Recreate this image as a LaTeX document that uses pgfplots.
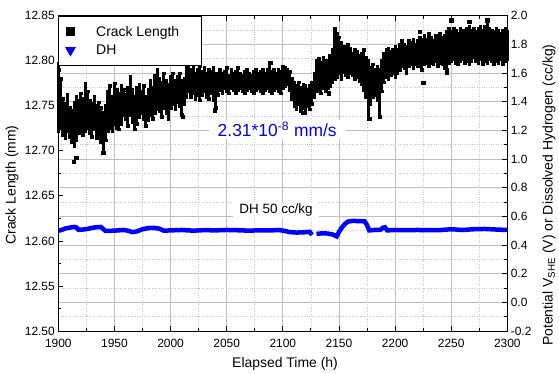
\documentclass[border=0pt]{standalone}
\usepackage{fontspec}
\setmainfont{Liberation Sans}
\usepackage{pgfplots}
\pgfplotsset{compat=1.18}
\usepackage{pgfplotstable}

\pgfplotstableread{
h lo hi
1900 12.722 12.797
1902 12.725 12.780
1904 12.718 12.758
1906 12.714 12.752
1908 12.722 12.762
1910 12.716 12.748
1912 12.710 12.745
1914 12.706 12.754
1916 12.712 12.760
1918 12.720 12.756
1920 12.724 12.764
1922 12.718 12.758
1924 12.722 12.775
1926 12.726 12.766
1928 12.720 12.756
1930 12.716 12.752
1932 12.724 12.760
1934 12.714 12.750
1936 12.718 12.754
1938 12.710 12.748
1940 12.700 12.742
1942 12.712 12.750
1944 12.722 12.766
1946 12.726 12.772
1948 12.722 12.760
1950 12.730 12.775
1952 12.726 12.768
1954 12.724 12.764
1956 12.730 12.772
1958 12.740 12.768
1960 12.735 12.762
1962 12.728 12.770
1964 12.740 12.782
1966 12.732 12.768
1968 12.724 12.760
1970 12.730 12.770
1972 12.738 12.774
1974 12.742 12.766
1976 12.735 12.772
1978 12.728 12.760
1980 12.734 12.768
1982 12.740 12.778
1984 12.736 12.770
1986 12.742 12.784
1988 12.746 12.790
1990 12.744 12.780
1992 12.738 12.776
1994 12.748 12.786
1996 12.742 12.778
1998 12.736 12.774
2000 12.748 12.782
2002 12.752 12.786
2004 12.746 12.778
2006 12.754 12.782
2008 12.750 12.786
2010 12.740 12.778
2012 12.752 12.780
2014 12.760 12.794
2016 12.766 12.796
2018 12.760 12.790
2020 12.764 12.792
2022 12.758 12.786
2024 12.762 12.790
2026 12.756 12.794
2028 12.762 12.788
2030 12.766 12.792
2032 12.760 12.786
2034 12.758 12.790
2036 12.764 12.788
2038 12.756 12.792
2040 12.748 12.786
2042 12.762 12.786
2044 12.768 12.790
2046 12.764 12.786
2048 12.770 12.788
2050 12.766 12.792
2052 12.764 12.784
2054 12.770 12.790
2056 12.768 12.786
2058 12.764 12.788
2060 12.768 12.792
2062 12.770 12.786
2064 12.766 12.784
2066 12.764 12.788
2068 12.768 12.790
2070 12.770 12.786
2072 12.766 12.784
2074 12.764 12.788
2076 12.768 12.790
2078 12.770 12.786
2080 12.766 12.788
2082 12.764 12.790
2084 12.768 12.786
2086 12.770 12.790
2088 12.766 12.798
2090 12.764 12.788
2092 12.768 12.790
2094 12.770 12.786
2096 12.766 12.790
2098 12.764 12.788
2100 12.770 12.794
2102 12.772 12.792
2104 12.774 12.790
2106 12.768 12.788
2108 12.758 12.780
2110 12.750 12.776
2112 12.746 12.772
2114 12.752 12.776
2116 12.744 12.770
2118 12.748 12.774
2120 12.742 12.772
2122 12.750 12.768
2124 12.746 12.772
2126 12.752 12.776
2128 12.760 12.786
2130 12.766 12.800
2132 12.768 12.802
2134 12.764 12.798
2136 12.770 12.804
2138 12.766 12.800
2140 12.770 12.798
2142 12.772 12.806
2144 12.776 12.812
2146 12.780 12.834
2148 12.782 12.830
2150 12.786 12.826
2152 12.780 12.820
2154 12.788 12.816
2156 12.784 12.812
2158 12.782 12.818
2160 12.786 12.814
2162 12.784 12.808
2164 12.780 12.812
2166 12.782 12.810
2168 12.778 12.806
2170 12.774 12.808
2172 12.768 12.812
2174 12.760 12.804
2176 12.740 12.800
2178 12.752 12.792
2180 12.760 12.796
2182 12.762 12.790
2184 12.756 12.794
2186 12.742 12.790
2188 12.766 12.800
2190 12.776 12.808
2192 12.782 12.812
2194 12.780 12.814
2196 12.784 12.810
2198 12.786 12.812
2200 12.782 12.816
2202 12.786 12.812
2204 12.790 12.818
2206 12.794 12.822
2208 12.792 12.818
2210 12.786 12.816
2212 12.794 12.822
2214 12.796 12.820
2216 12.792 12.824
2218 12.796 12.818
2220 12.794 12.822
2222 12.798 12.826
2224 12.790 12.824
2226 12.796 12.828
2228 12.798 12.824
2230 12.794 12.830
2232 12.798 12.826
2234 12.796 12.822
2236 12.800 12.828
2238 12.794 12.826
2240 12.798 12.830
2242 12.796 12.826
2244 12.792 12.828
2246 12.790 12.832
2248 12.798 12.836
2250 12.800 12.832
2252 12.802 12.836
2254 12.798 12.834
2256 12.796 12.830
2258 12.800 12.836
2260 12.802 12.834
2262 12.798 12.830
2264 12.800 12.836
2266 12.796 12.838
2268 12.800 12.834
2270 12.804 12.836
2272 12.800 12.832
2274 12.798 12.836
2276 12.802 12.838
2278 12.796 12.834
2280 12.800 12.838
2282 12.798 12.842
2284 12.802 12.836
2286 12.800 12.834
2288 12.796 12.832
2290 12.800 12.836
2292 12.798 12.834
2294 12.802 12.830
2296 12.796 12.834
2298 12.800 12.836
2300 12.802 12.832
}\crack

\begin{document}
\begin{tikzpicture}[font=\fontsize{12}{14}\selectfont]
\pgfplotsset{
  base/.style={width=449bp, height=315.3bp, scale only axis,
    xmin=1900, xmax=2300,
    tick align=inside, major tick length=5bp, minor tick length=3bp,
    /pgf/number format/assume math mode=true,
    tick style={black, line width=0.8bp},
    axis line style={black, line width=1bp},
    tick label style={font=\fontsize{12}{14}\selectfont},
    clip=false}
}
\begin{axis}[base, name=dh,
  ymin=-0.2, ymax=2.0,
  ytick={-0.2,0,0.2,0.4,0.6,0.8,1.0,1.2,1.4,1.6,1.8,2.0},
  minor ytick={-0.1,0.1,0.3,0.5,0.7,0.9,1.1,1.3,1.5,1.7,1.9},
  xtick={1900,1950,2000,2050,2100,2150,2200,2250,2300},
  minor xtick={1925,1975,2025,2075,2125,2175,2225,2275},
  ytick pos=right, yticklabel pos=right,
  xtick pos=both, xticklabel pos=bottom,
  grid=both,
  major grid style={solid, gray!50, line width=0.8bp},
  minor grid style={dotted, gray!45, line width=0.7bp},
  yticklabel style={/pgf/number format/.cd, fixed, fixed zerofill, precision=1},
  xticklabel style={/pgf/number format/1000 sep={}, yshift=-5bp},
]
\addplot[blue, line width=4.5bp] coordinates {
(1900,0.500)(1903,0.505)(1906,0.515)(1910,0.521)(1914,0.526)(1916,0.524)(1918,0.506)
(1922,0.508)(1926,0.512)(1930,0.520)(1934,0.524)(1938,0.526)(1940,0.512)(1942,0.498)
(1950,0.500)(1958,0.505)(1962,0.500)(1966,0.490)(1970,0.495)(1975,0.510)(1980,0.518)
(1985,0.520)(1990,0.514)(1994,0.500)(2000,0.502)(2010,0.505)(2020,0.500)(2030,0.504)
(2040,0.502)(2050,0.505)(2060,0.503)(2070,0.500)(2080,0.503)(2090,0.502)(2096,0.505)
(2102,0.498)(2106,0.490)(2112,0.487)(2118,0.488)(2124,0.492)(2126,0.470)};
\addplot[blue, line width=4.5bp] coordinates {
(2130,0.477)(2135,0.482)(2140,0.480)(2145,0.472)(2148,0.460)(2150,0.490)(2152,0.515)
(2155,0.545)(2158,0.563)(2162,0.568)(2168,0.567)(2173,0.565)(2175,0.540)(2177,0.502)
(2182,0.505)(2187,0.506)(2189,0.520)(2191,0.524)(2193,0.502)(2200,0.505)(2210,0.503)
(2220,0.505)(2230,0.503)(2240,0.504)(2250,0.510)(2260,0.505)(2270,0.510)(2280,0.512)
(2290,0.508)(2300,0.505)};
\coordinate (bl) at (rel axis cs:0,0);
\coordinate (tr) at (rel axis cs:1,1);
\node[rotate=90, font=\fontsize{14}{16}\selectfont] at (axis description cs:1.093,0.431)
  {Potential V\textsubscript{SHE} (V) or Dissolved Hydrogen (cc/kg)};
\node[font=\fontsize{14}{16}\selectfont] at (axis description cs:0.505,-0.105) {Elapsed Time (h)};
\end{axis}
\begin{axis}[base,
  ymin=12.5, ymax=12.85,
  ytick={12.50,12.55,12.60,12.65,12.70,12.75,12.80,12.85},
  minor ytick={12.525,12.575,12.625,12.675,12.725,12.775,12.825},
  ytick pos=left, xtick=\empty,
  yticklabel style={/pgf/number format/.cd, fixed, fixed zerofill, precision=2},
  legend style={at={(0,1)}, anchor=north west, draw=black, line width=0.8bp,
    font=\fontsize{14}{16}\selectfont, inner xsep=7bp, inner ysep=8bp,
    row sep=3bp, /tikz/every odd column/.append style={column sep=19bp}},
  legend cell align=left,
]
\addplot[forget plot, black, draw=none, only marks, mark=square*, mark size=1.3bp,
  error bars/.cd, y dir=plus, y explicit,
  error bar style={draw=black, line width=3bp, line cap=butt},
  error mark=none]
  table[x=h, y=lo, y error expr=\thisrow{hi}-\thisrow{lo}] {\crack};
\addplot[forget plot, black, only marks, mark=square*, mark size=1.3bp]
  table[x=h, y=hi] {\crack};
\addplot[forget plot, only marks, mark=square*, black, mark size=1.6bp] coordinates {
(1900,12.790)(1914,12.688)(1916,12.692)(1940,12.698)(2011,12.738)(2039,12.745)
(2089,12.798)(2118,12.742)(2146,12.836)(2177,12.736)(2186,12.738)(2225,12.776)
(2246,12.787)(2222,12.832)(2250,12.845)(2266,12.843)(2282,12.845)(2141,12.764)};
\addlegendimage{only marks, mark=square*, black, mark size=4bp}
\addlegendentry{Crack Length\hspace*{13bp}}
\addlegendimage{only marks, mark=triangle*, blue, mark size=5.5bp, mark options={rotate=180}}
\addlegendentry{DH}
\node[fill=white, text=blue, font=\fontsize{17.5}{20}\selectfont, inner xsep=9bp, inner ysep=2bp]
  at (axis cs:2095,12.724) {2.31*10\textsuperscript{-8} mm/s};
\node[fill=white, font=\fontsize{13.5}{16}\selectfont, inner xsep=6bp, inner ysep=2bp]
  at (axis cs:2094,12.6344) {DH 50 cc/kg};
\node[rotate=90, font=\fontsize{14}{16}\selectfont] at (axis description cs:-0.103,0.463) {Crack Length (mm)};
\end{axis}
\pgfresetboundingbox
\path[use as bounding box] ([xshift=-58.3bp,yshift=-43bp]bl) rectangle ([xshift=51.7bp,yshift=15.7bp]tr);
\end{tikzpicture}
\end{document}
